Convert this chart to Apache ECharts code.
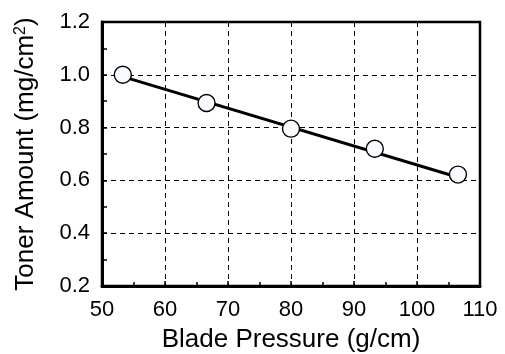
<!DOCTYPE html>
<html>
<head>
<meta charset="utf-8">
<script src="https://cdn.jsdelivr.net/npm/echarts@6/dist/echarts.min.js"></script>
<style>
  html, body { margin: 0; padding: 0; background: #fff; }
  #chart { width: 505px; height: 354px; }
</style>
</head>
<body>
<div id="chart"></div>
<script>
// measured points
const pressure = [53.3, 66.6, 80.0, 93.3, 106.5]
const toner = [1.0, 0.893, 0.796, 0.72, 0.622]
// fitted line end points
const fitX = [53.3, 106.5]
const fitY = [0.993, 0.612]

const font = 'Liberation Sans, Arial, Helvetica, sans-serif'

let chart = echarts.init(document.getElementById('chart'))

chart.setOption({
  animation: false,
  backgroundColor: '#fff',
  grid: {
    left: 102,
    right: 25,
    top: 22,
    bottom: 68,
    outerBoundsMode: 'none',
    show: true,
    borderColor: '#000',
    borderWidth: 2.5,
  },
  xAxis: {
    type: 'value',
    min: 50,
    max: 110,
    interval: 10,
    name: 'Blade Pressure (g/cm)',
    nameLocation: 'middle',
    nameGap: 41,
    nameTextStyle: { fontFamily: font, fontSize: 26, color: '#000' },
    axisLine: { lineStyle: { color: '#000', width: 3 } },
    axisTick: { inside: true, length: 5, lineStyle: { color: '#000', width: 1.5 } },
    minorTick: { show: true, splitNumber: 2, length: 4, lineStyle: { color: '#000', width: 1.5 } },
    axisLabel: { fontFamily: font, fontSize: 22, color: '#000', margin: 13 },
    splitLine: { show: true, lineStyle: { color: '#000', type: [5, 4], width: 1 } },
  },
  yAxis: {
    type: 'value',
    min: 0.2,
    max: 1.2,
    interval: 0.2,
    name: 'Toner Amount (mg/cm{sup|2})',
    nameLocation: 'middle',
    nameGap: 63,
    nameTextStyle: {
      fontFamily: font,
      fontSize: 26,
      color: '#000',
      rich: {
        sup: { fontFamily: font, fontSize: 16, color: '#000', verticalAlign: 'top', lineHeight: 26 },
      },
    },
    axisLine: { show: true, lineStyle: { color: '#000', width: 3 } },
    axisTick: { show: true, inside: true, length: 5, lineStyle: { color: '#000', width: 1.5 } },
    minorTick: { show: true, splitNumber: 2, length: 5, lineStyle: { color: '#000', width: 1.5 } },
    axisLabel: {
      fontFamily: font,
      fontSize: 22,
      color: '#000',
      margin: 12,
      formatter: v => v.toFixed(1),
    },
    splitLine: { show: true, lineStyle: { color: '#000', type: [5, 4], width: 1 } },
  },
  series: [
    {
      type: 'line',
      data: fitX.map((x, i) => [x, fitY[i]]),
      showSymbol: false,
      lineStyle: { color: '#000', width: 3 },
      z: 2,
    },
    {
      type: 'scatter',
      data: pressure.map((x, i) => [x, toner[i]]),
      symbol: 'circle',
      symbolSize: 17,
      itemStyle: { color: '#f8fbff', borderColor: '#000', borderWidth: 1.4, opacity: 1 },
      z: 3,
    },
  ],
})
</script>
</body>
</html>
